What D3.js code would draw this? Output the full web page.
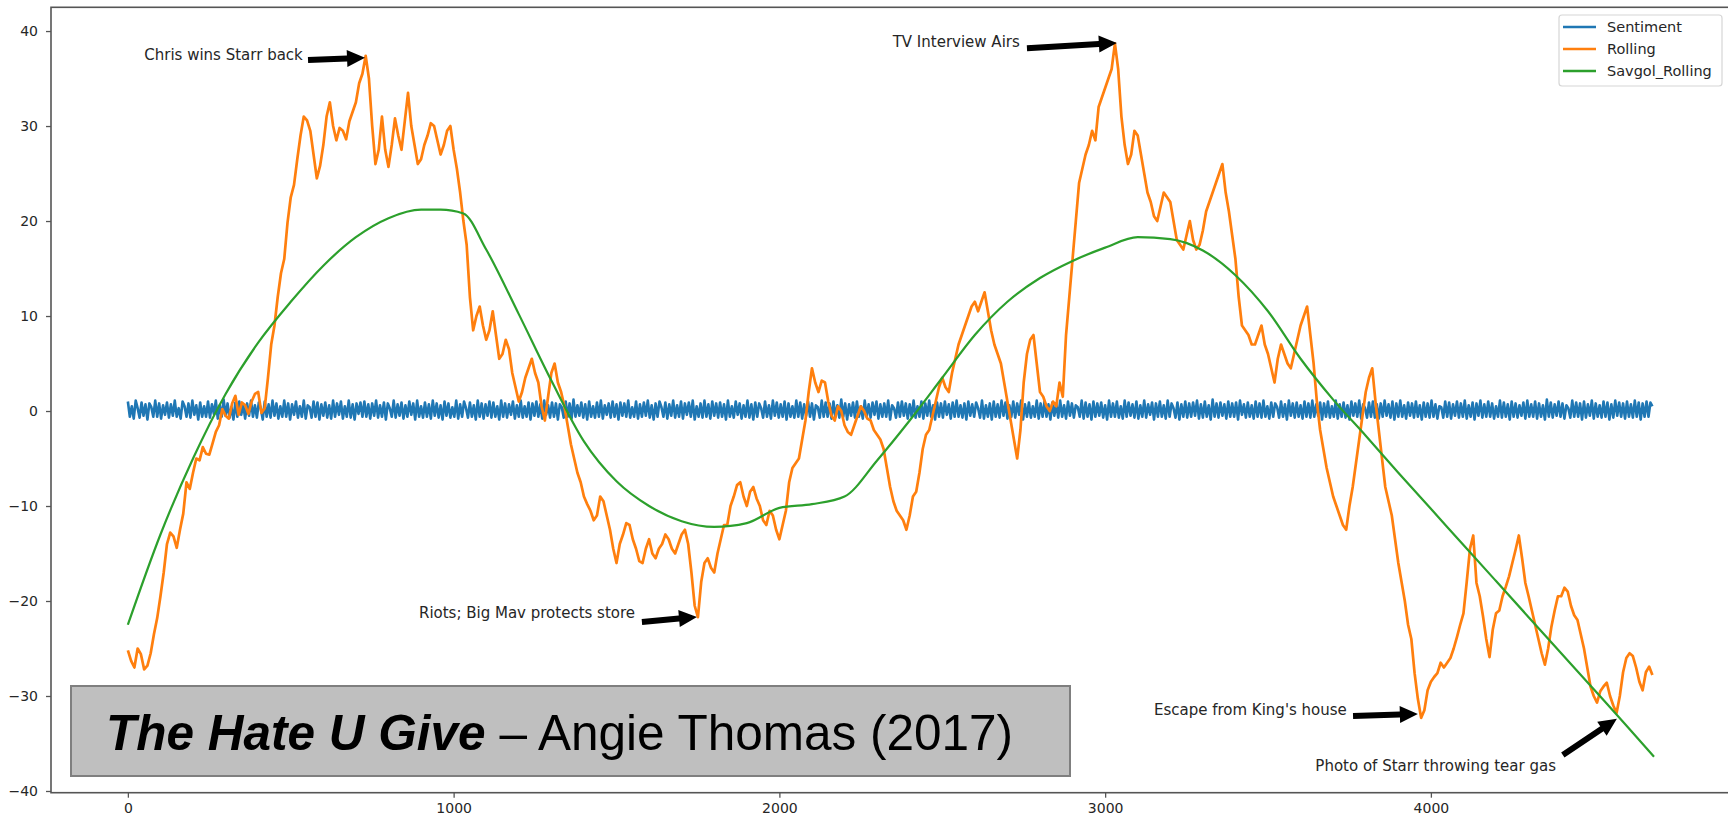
<!DOCTYPE html>
<html>
<head>
<meta charset="utf-8">
<script src="https://cdn.jsdelivr.net/npm/d3@7"></script>
<style>
  html, body { margin: 0; padding: 0; background: #fff; }
  svg { display: block; }
  text { font-family: "DejaVu Sans", sans-serif; }
</style>
</head>
<body>
<svg id="chart" width="1728" height="816"></svg>
<script>
// Sentiment arc of "The Hate U Give": raw sentiment, rolling sum, Savitzky-Golay smoothing

// Sentiment (one value every 6 sentences)
const SENT_STEP = 6;
const sentiment = [
  1,-.6,.5,-.8,1.1,.3,-.7,.9,-.5,.7,-.9,.8,.4,-.6,1.1,-.6,.8,-.8,.6,-.4,
  .9,-.7,.7,-.5,1.1,-.6,.3,-.8,1,.5,-.6,.8,-.7,1.1,-.4,.6,-.9,.9,-.6,.5,
  -.6,1,-.7,.7,-.3,1.1,-.8,.6,-.6,1.2,-.5,.8,-.7,.4,-.9,.9,-.6,1,-.4,.7,
  -.8,.8,-.5,1.1,-.6,.6,-.7,.9,.3,-.9,1,-.6,.7,-.7,1.1,-.5,.8,-.8,.5,-.6,
  1.1,-.6,.8,-.9,.7,-.4,1,-.7,.5,-.6,1.1,-.8,.6,.4,-.7,1,-.6,.9,-.9,.7,
  -.5,.9,-.7,.6,-.8,1.1,-.6,.8,-.4,1,-.8,.5,-.6,1.1,-.7,.7,-.9,.8,-.3,.9,
  -.6,1,-.6,.7,-.8,.8,-.5,1.1,-.7,.6,-.6,.9,-.9,.8,.3,-.6,1.1,-.7,.7,-.5,
  .9,-.8,.6,-.6,1,-.4,.8,-.9,1.1,-.6,.5,-.7,.9,-.6,.7,-.8,1.1,-.5,.8,-.7,
  .6,-.9,1,-.5,.8,-.7,.4,-.6,1.1,-.8,.7,-.6,1,.3,-.7,.9,-.6,.6,-.9,1.1,
  -.6,.8,-.8,.7,-.5,1,-.7,.9,-.6,.5,-.9,1.1,-.6,.8,-.7,.7,-.4,1,-.8,.6,
  -.6,1.1,-.7,.5,-.6,.9,-.9,.8,-.5,1,-.6,.7,-.8,1.1,-.4,.6,-.7,.9,-.6,.8,
  -.9,.7,.4,-.7,1,-.6,.8,-.8,1.2,-.6,.6,-.5,.9,-.7,.7,-.9,1,-.6,.5,-.7,
  .9,-.6,1.1,-.8,.6,-.4,.8,-.7,1,-.6,.7,-.9,.9,-.5,.8,-.6,1.1,-.7,.4,-.6,
  1,-.8,.7,-.6,.9,-.5,1.1,-.7,.6,-.9,.8,-.6,1,.4,-.6,.9,-.8,.7,-.5,1.1,
  -.7,.6,-.6,1,-.8,.8,-.4,.9,-.6,1.1,-.9,.5,-.6,.8,-.7,1.1,-.6,.7,-.8,1,
  -.5,.8,-.7,.9,-.6,.7,-.9,1.1,-.6,.5,-.7,1,-.4,.8,-.8,.6,-.6,1.1,-.7,.7,
  -.9,.9,-.6,.8,.3,-.7,1,-.6,.6,-.8,1.1,-.5,.9,-.7,.7,-.6,1,-.9,.8,-.6,
  .5,-.7,1.1,-.6,.9,-.8,.7,-.5,1,-.6,.8,-.9,.6,.4,-.7,1.1,-.6,.9,-.6,.8,
  -.8,1,-.6,.6,-.7,1.2,-.6,.8,-.9,.7,-.5,.9,-.7,1,-.6,.5,-.8,1.1,-.6,.7,
  -.7,.9,-.4,1,-.8,.7,-.6,.8,-.6,1.1,-.9,.6,.3,-.7,.9,-.6,1,-.5,.8,-.8,
  .7,-.6,1.1,-.7,.5,-.6,1,-.8,.8,-.5,1.1,-.6,.6,-.9,.9,-.6,.8,-.7,1,-.4,
  .7,-.8,.9,-.6,1.1,-.6,.6,-.7,.8,-.9,1,-.5,.7,-.6,.9,.3,-.7,1.1,-.8,.6,
  -.6,.8,-.9,1,-.6,.7,-.7,1.1,-.5,.9,-.8,.6,-.6,1,-.7,.8,-.4,1.1,-.9,.7,
  -.6,.9,-.7,.5,-.6,1.1,-.8,.8,-.6,1,-.6,.7,-.9,.9,-.5,.8,-.7,1.1,-.6,.6,
  -.8,1,-.5,.8,-.7,.6,.4,-.6,1.1,-.8,.9,-.6,.7,-.9,1,-.6,.8,-.5,.9,-.7,
  .6,-.9,1.1,-.6,.8,-.6,1,-.7,.5,-.8,1.1,-.6,.9,-.5,.7,-.7,1,-.8,.6,-.6,
  1.1,-.7,.7,-.4,.9,-.9,.8,-.6,1,-.6,.6,-.8,1.1,-.6,.8,.3,-.7,.9,-.9,.7,
  -.6,1,-.7,.8,-.6,.9,-.5,1.1,-.8,.7,-.7,1,-.6,.6,-.9,1.2,-.6,.8,-.7,.9,
  -.5,.7,-.8,1,-.6,.8,-.6,.9,-.9,1.1,-.4,.7,-.7,.9,-.6,.6,-.8,1,-.6,.8,
  -.7,1.1,-.6,.5,-.8,.9,-.6,.8,.4,-.7,1,-.6,.7,-.9,1.1,-.5,.8,-.7,.9,-.6,
  .6,-.8,1,-.6,.8,-.7,1.1,-.6,.7,-.5,.9,-.9,.8,-.6,1,-.7,.5,-.6,1.1,-.8,
  .7,-.6,.9,-.7,.6,-.9,1,-.5,.8,-.6,1.1,-.8,.7,.3,-.7,.9,-.6,1,-.7,.7,
  -.8,.8,-.6,1.1,-.5,.7,-.7,1,-.9,.8,-.6,1.1,-.6,.6,-.8,.9,-.5,.8,-.7,1,
  -.6,.6,-.9,.9,-.6,.8,-.7,1.1,-.6,.7,-.8,.5,.4,-.7,1,-.6,.9,-.8,.7,-.5,
  1,-.7,.8,-.6,1.1,-.8,.6,-.6,.9,-.9,.8,-.5,1.1,-.7,.7,-.6,1,-.6,.8,-.8,
  .5,-.6,1.1,-.7,.9,-.6,.7,-.9,1,-.6,.8,-.7,.6,-.5,.9,-.8,1.1,-.6,.7,-.6,
  1,-.8,.8,-.6,.6,-.9,1.2,-.6,.9,-.7,.7,-.5,1,-.6,.8,-.8,.6,.3,-.7,1.1,
  -.6,.9,-.6,.8,-.9,1,-.7,.7,-.5,1.1,-.8,.8,-.6,.6,-.7,1,-.6,.9,-.9,.7,
  -.7,1.1,-.5,.9,-.6,.8,-.8,1,-.6,.7,-.7,1.1,-.6,.9,-.9,.8,-.6,1,-.6,.9,
  .5
];

// Rolling sentiment (one value every 10 sentences)
const ROLL_STEP = 10;
const rolling = [
  -25.2,-26.3,-27.0,-25.0,-25.6,-27.2,-26.8,-25.5,-23.5,-21.8,-19.5,-17.0,-14.0,-12.8,-13.2,-14.4,-12.5,-10.8,-7.5,-8.2,
  -6.5,-5.0,-5.2,-3.8,-4.5,-4.6,-3.4,-2.2,-1.5,0.2,-0.5,-0.8,0.8,1.6,-0.4,0.9,0.6,-0.3,1.0,1.8,
  2.0,-0.2,0.3,3.5,7.0,9.0,12.0,14.5,16.0,19.8,22.5,23.8,26.5,29.0,31.0,30.6,29.5,27.0,24.5,25.8,
  28.0,31.0,32.5,30.0,28.5,29.8,29.5,28.6,30.5,31.5,32.5,34.5,35.5,37.4,35.0,30.0,26.0,27.5,31.0,27.5,
  25.7,28.0,30.8,29.0,27.5,30.5,33.5,30.0,28.0,26.0,26.5,28.0,29.0,30.3,30.0,28.5,27.0,28.0,29.5,30.0,
  27.5,25.5,23.0,20.0,17.5,12.0,8.5,10.0,11.0,9.0,7.5,8.5,10.5,8.0,5.5,6.0,7.5,6.5,4.0,2.5,
  1.0,2.0,3.5,4.5,5.5,4.0,3.0,0.5,-1.0,1.5,4.0,5.0,3.0,2.0,0.5,-1.5,-3.5,-5.0,-6.5,-7.5,
  -9.0,-9.8,-10.5,-11.5,-11.0,-9.0,-9.5,-11.0,-12.5,-14.5,-16.0,-14.0,-13.0,-11.8,-12.0,-13.5,-14.5,-15.8,-16.0,-14.5,
  -13.5,-15.0,-15.5,-14.5,-14.0,-13.0,-13.5,-14.5,-15.0,-14.0,-13.0,-12.5,-14.0,-17.0,-20.5,-21.7,-18.0,-16.0,-15.5,-16.5,
  -17.0,-15.0,-13.5,-12.0,-12.0,-10.0,-9.0,-7.8,-7.5,-9.0,-10.0,-8.5,-8.0,-9.2,-10.0,-11.5,-12.0,-10.5,-11.0,-12.5,
  -13.5,-12.0,-10.5,-7.5,-6.0,-5.5,-5.0,-3.0,-1.0,2.0,4.5,3.0,2.0,3.2,3.0,1.0,-0.5,-1.0,0.5,0.0,
  -1.5,-2.2,-2.5,-1.5,-0.5,0.5,0.0,-0.8,-1.0,-2.0,-2.5,-3.0,-4.0,-6.0,-8.0,-9.5,-10.5,-11.0,-11.5,-12.5,
  -11.0,-9.0,-8.5,-6.5,-4.0,-2.5,-2.0,-0.5,1.0,2.5,3.5,2.5,2.0,4.0,5.5,7.0,8.0,9.0,10.0,11.0,
  11.5,10.5,11.5,12.5,10.5,8.5,7.0,6.0,5.0,3.0,1.0,-1.0,-3.0,-5.0,-2.0,3.0,6.0,7.5,8.0,5.0,
  2.0,1.5,0.5,0.0,1.0,0.5,3.0,1.5,8.0,12.0,16.0,20.0,24.0,25.5,27.0,28.0,29.5,28.5,32.0,33.0,
  34.0,35.0,36.0,38.7,36.0,31.0,28.0,26.0,27.0,29.5,29.0,27.0,25.0,23.0,22.0,20.5,20.0,21.5,23.0,22.5,
  22.0,20.0,18.0,17.5,17.0,18.5,20.0,18.0,17.0,17.5,19.0,21.0,22.0,23.0,24.0,25.0,26.0,23.0,21.0,18.5,
  16.0,12.0,9.0,8.5,8.0,7.0,7.0,8.0,9.0,7.0,6.0,4.5,3.0,5.5,7.0,6.0,5.0,4.5,6.0,7.5,
  9.0,10.0,11.0,8.0,5.0,1.0,-2.0,-4.0,-6.0,-7.5,-9.0,-10.0,-11.0,-12.0,-12.5,-10.0,-8.0,-5.5,-3.0,-0.5,
  2.0,3.5,4.5,1.0,-2.0,-5.0,-8.0,-9.5,-11.0,-13.5,-16.0,-18.0,-20.0,-22.5,-24.0,-27.6,-30.3,-32.3,-31.5,-29.4,
  -28.5,-28.0,-27.6,-26.5,-27.0,-26.5,-26.0,-25.0,-23.8,-22.5,-21.3,-18.0,-14.5,-13.1,-18.1,-19.5,-21.6,-24.0,-25.9,-23.0,
  -21.3,-21.0,-19.5,-18.5,-17.4,-16.0,-14.6,-13.1,-15.5,-18.1,-19.5,-21.0,-22.5,-24.0,-25.5,-26.7,-25.0,-22.7,-21.0,-19.5,
  -19.5,-18.6,-19.0,-20.5,-21.5,-22.0,-23.5,-25.0,-27.0,-29.0,-30.0,-30.7,-29.5,-29.0,-28.6,-30.0,-31.0,-31.8,-30.0,-27.5,
  -26.0,-25.5,-25.8,-27.0,-28.5,-29.4,-27.5,-26.9,-27.8
];

// Savgol smoothed rolling sentiment
const savgolX = [0,100,200,300,400,500,600,700,800,900,960,1030,1100,1200,1300,1400,1500,1600,1700,1800,
  1900,2000,2100,2200,2300,2400,2500,2600,2700,2800,2900,3000,3100,3200,3300,3400,3500,3600,3700,3800,
  3900,4000,4100,4200,4300,4400,4500,4600,4685];
const savgolY = [-22.5,-13.0,-5.0,1.8,7.2,11.5,15.3,18.3,20.3,21.2,21.2,20.8,17.0,10.2,3.2,-3.2,-7.4,-10.0,-11.6,-12.2,
  -11.8,-10.2,-9.8,-9.0,-5.2,-1.0,3.5,8.0,11.5,14.0,15.8,17.2,18.3,18.1,16.9,14.3,10.5,5.5,1.2,-2.6,
  -6.5,-10.3,-14.1,-17.9,-21.7,-25.5,-29.3,-33.1,-36.4];

const xTicks = [0, 1000, 2000, 3000, 4000];
const yTicks = [-40, -30, -20, -10, 0, 10, 20, 30, 40];

const seriesNames = ['Sentiment', 'Rolling', 'Savgol_Rolling'];
const seriesColors = ['#1f77b4', '#ff7f0e', '#2ca02c'];

// annotations: target point, arrow tail and text end, all in data units
const notes = [
  { label: 'Chris wins Starr back', x: 728, y: 37.2, tailX: 553, tailY: 36.95, textX: 537, textY: 37.47 },
  { label: 'TV Interview Airs', x: 3036, y: 38.74, tailX: 2760, tailY: 38.2, textX: 2738, textY: 38.84 },
  { label: 'Riots; Big Mav protects store', x: 1747, y: -21.68, tailX: 1578, tailY: -22.2, textX: 1557, textY: -21.26 },
  { label: "Escape from King's house", x: 3960, y: -31.9, tailX: 3761, tailY: -32.1, textX: 3742, textY: -31.47 },
  { label: 'Photo of Starr throwing tear gas', x: 4571, y: -32.4, tailX: 4405, tailY: -36.2, textX: 4384, textY: -37.37 }
];

const bookTitle = 'The Hate U Give';
const bookByline = ' \u2013 Angie Thomas (2017)';

// ── layout ───────────────────────────────────────────
const plot = { left: 51, top: 7.3, right: 1729.6, bottom: 792.7 };

const svg = d3.select('#chart');
svg.append('rect').attr('width', 1728).attr('height', 816).attr('fill', '#fff');

const x = d3.scaleLinear().domain([-236, 4917]).range([plot.left, plot.right]);
const y = d3.scaleLinear().domain([-40.18, 42.5]).range([plot.bottom, plot.top]);

svg.append('clipPath').attr('id', 'plot-clip')
  .append('rect')
  .attr('x', plot.left).attr('y', plot.top)
  .attr('width', plot.right - plot.left).attr('height', plot.bottom - plot.top);

const rawLine = d3.line().x(d => x(d[0])).y(d => y(d[1]));
const smoothLine = d3.line().x(d => x(d[0])).y(d => y(d[1])).curve(d3.curveMonotoneX);

const seriesData = [
  sentiment.map((v, i) => [i * SENT_STEP, v]),
  rolling.map((v, i) => [i * ROLL_STEP, v]),
  savgolY.map((v, i) => [savgolX[i], v])
];
const widths = [2.6, 2.7, 2.2];
const shapes = [rawLine, rawLine, smoothLine];

const lines = svg.append('g').attr('clip-path', 'url(#plot-clip)');
seriesData.forEach((data, i) => {
  lines.append('path')
    .datum(data)
    .attr('fill', 'none')
    .attr('stroke', seriesColors[i])
    .attr('stroke-width', widths[i])
    .attr('stroke-linejoin', 'round')
    .attr('d', shapes[i]);
});

// axes
const xAxis = svg.append('g')
  .attr('transform', `translate(0,${plot.bottom})`)
  .call(d3.axisBottom(x).tickValues(xTicks).tickFormat(d3.format('d')).tickSize(5).tickPadding(5.5));
const yAxis = svg.append('g')
  .attr('transform', `translate(${plot.left},0)`)
  .call(d3.axisLeft(y).tickValues(yTicks).tickFormat(d3.format('d')).tickSize(5).tickPadding(8));

[xAxis, yAxis].forEach(g => {
  g.select('.domain').remove();
  g.selectAll('.tick line').attr('stroke', '#555').attr('stroke-width', 1.3);
  g.selectAll('.tick text')
    .attr('fill', '#262626')
    .style('font-family', '"DejaVu Sans", sans-serif')
    .style('font-size', '14px');
});

svg.append('rect')
  .attr('x', plot.left).attr('y', plot.top)
  .attr('width', plot.right - plot.left).attr('height', plot.bottom - plot.top)
  .attr('fill', 'none').attr('stroke', '#555').attr('stroke-width', 1.6);

// legend
const legend = svg.append('g');
legend.append('rect')
  .attr('x', 1559).attr('y', 15).attr('width', 163).attr('height', 71).attr('rx', 3)
  .attr('fill', '#fff').attr('stroke', '#d6d6d6').attr('stroke-width', 1.2);
seriesNames.forEach((name, i) => {
  const ly = 27 + i * 22;
  legend.append('line')
    .attr('x1', 1563).attr('x2', 1596).attr('y1', ly).attr('y2', ly)
    .attr('stroke', seriesColors[i]).attr('stroke-width', 2.4);
  legend.append('text')
    .attr('x', 1607).attr('y', ly).attr('dy', '0.36em')
    .attr('fill', '#262626').style('font-size', '14.5px')
    .text(name);
});

// annotations with block arrows
function arrowPoints(x0, y0, x1, y1) {
  const dx = x1 - x0, dy = y1 - y0, len = Math.hypot(dx, dy);
  const ux = dx / len, uy = dy / len, px = -uy, py = ux;
  const w = 3, hw = 8.5, hl = Math.min(18, len * 0.45);
  const bx = x1 - ux * hl, by = y1 - uy * hl;
  return [
    [x0 + px * w, y0 + py * w], [bx + px * w, by + py * w], [bx + px * hw, by + py * hw],
    [x1, y1],
    [bx - px * hw, by - py * hw], [bx - px * w, by - py * w], [x0 - px * w, y0 - py * w]
  ];
}

const ann = svg.append('g');
notes.forEach(n => {
  ann.append('text')
    .attr('x', x(n.textX)).attr('y', y(n.textY)).attr('dy', '0.36em')
    .attr('text-anchor', 'end')
    .attr('fill', '#262626').style('font-size', '15px')
    .text(n.label);
  ann.append('polygon')
    .attr('points', arrowPoints(x(n.tailX), y(n.tailY), x(n.x), y(n.y)).map(p => p.join(',')).join(' '))
    .attr('fill', '#000');
});

// title box
const box = svg.append('g');
box.append('rect')
  .attr('x', 71).attr('y', 686).attr('width', 999).attr('height', 90)
  .attr('fill', '#bfbfbf').attr('stroke', '#7f7f7f').attr('stroke-width', 2);
const t = box.append('text')
  .attr('x', 106).attr('y', 750)
  .style('font-family', '"Liberation Sans", Arial, sans-serif')
  .style('font-size', '49.5px').attr('fill', '#000');
t.append('tspan').style('font-weight', 'bold').style('font-style', 'italic').text(bookTitle);
t.append('tspan').text(bookByline);
</script>
</body>
</html>
